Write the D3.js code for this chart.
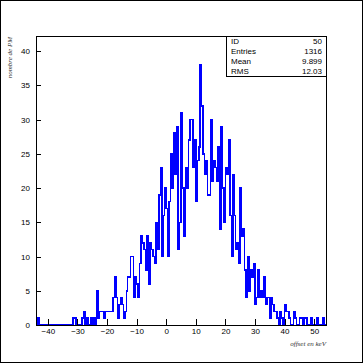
<!DOCTYPE html>
<html>
<head>
<meta charset="utf-8">
<script src="https://cdn.jsdelivr.net/npm/d3@7"></script>
<style>
  body { margin: 0; background: #fff; }
</style>
</head>
<body>
<div id="chart"></div>
<script>
// histogram 50 : offset en keV, 0.5 keV bins from -44 to 54
const binLow = -44;
const binWidth = 0.5;
const counts = [
  0, 1, 0, 0, 0, 0, 0, 0, 0, 0, 0, 0, 0, 0, 0, 0, 0, 0, 0, 0,
  0, 0, 0, 0, 0, 1, 1, 0, 0, 0, 0, 1, 2, 0, 1, 0, 0, 1, 0, 1,
  0, 5, 1, 2, 2, 2, 1, 2, 2, 2, 2, 2, 4, 7, 4, 1, 3, 4, 3, 1,
  2, 5, 7, 7, 10, 10, 4, 7, 6, 4, 9, 13, 12, 11, 8, 13, 6, 12, 11, 10,
  9, 15, 11, 19, 23, 10, 16, 20, 17, 10, 18, 25, 20, 28, 22, 29, 11, 15, 31, 20,
  13, 23, 20, 27, 30, 30, 23, 27, 18, 24, 26, 38, 32, 25, 22, 24, 19, 19, 30, 21,
  24, 23, 21, 26, 14, 29, 20, 15, 23, 22, 27, 16, 10, 22, 16, 11, 12, 9, 20, 13,
  14, 8, 4, 10, 5, 8, 7, 9, 3, 4, 8, 4, 5, 4, 7, 3, 4, 4, 1, 4,
  3, 2, 2, 1, 0, 2, 1, 0, 3, 2, 2, 1, 0, 0, 2, 1, 0, 0, 1, 1,
  0, 1, 1, 0, 0, 0, 1, 0, 0, 0, 1, 0, 0, 0, 1, 0
];

const xMajor = [-40, -30, -20, -10, 0, 10, 20, 30, 40, 50];
const yMajor = [0, 5, 10, 15, 20, 25, 30, 35, 40];

const statLabels = ["ID", "Entries", "Mean", "RMS"];
const statValues = ["50", "1316", "9.899", "12.03"];

const W = 363, H = 363;
const frame = {left: 36, right: 326, top: 36, bottom: 325};
const sans = "'Liberation Sans', Arial, sans-serif";
const serif = "'Liberation Serif', 'Times New Roman', serif";

const svg = d3.select("#chart").append("svg")
    .attr("width", W)
    .attr("height", H)
    .attr("font-family", sans);

svg.append("rect")
    .attr("x", 0.5).attr("y", 0.5)
    .attr("width", W - 1).attr("height", H - 1)
    .attr("fill", "#fff").attr("stroke", "#000");

const xMax = binLow + counts.length * binWidth;
const x = d3.scaleLinear().domain([binLow, xMax]).range([frame.left, frame.right]);
const y = d3.scaleLinear().domain([0, 42.2]).range([frame.bottom, frame.top]);

// step outline of the histogram
const pts = [[binLow, 0]];
counts.forEach((c, i) => pts.push([binLow + i * binWidth, c]));
pts.push([xMax, counts[counts.length - 1]]);
pts.push([xMax, 0]);

const line = d3.line()
    .x(d => x(d[0]))
    .y(d => y(d[1]))
    .curve(d3.curveStepAfter);

svg.append("path")
    .datum(pts)
    .attr("d", line)
    .attr("fill", "none")
    .attr("stroke", "#0000ff")
    .attr("stroke-width", 1.5)
    .attr("shape-rendering", "crispEdges");

// axes, ticks pointing inward
const xMinor = d3.range(-44, 54.01, 2);
const yMinor = d3.range(0, 42.01, 1);

const gx = svg.append("g").attr("transform", `translate(0,${frame.bottom})`);
gx.call(d3.axisBottom(x).tickValues(xMinor).tickSize(-3.5).tickFormat(""));
gx.call(d3.axisBottom(x).tickValues(xMajor).tickSize(-6).tickPadding(3).tickFormat(d3.format("d")));

const gy = svg.append("g").attr("transform", `translate(${frame.left},0)`);
gy.call(d3.axisLeft(y).tickValues(yMinor).tickSize(-2.5).tickFormat(""));
gy.call(d3.axisLeft(y).tickValues(yMajor).tickSize(-5).tickPadding(6).tickFormat(d3.format("d")));

svg.selectAll(".domain").remove();
svg.selectAll(".tick line").attr("shape-rendering", "crispEdges");
svg.selectAll(".tick text")
    .attr("font-family", sans)
    .attr("font-size", 8)
    .attr("fill", "#000");

// frame
svg.append("rect")
    .attr("x", frame.left + 0.5).attr("y", frame.top + 0.5)
    .attr("width", frame.right - frame.left).attr("height", frame.bottom - frame.top)
    .attr("fill", "none").attr("stroke", "#000")
    .attr("shape-rendering", "crispEdges");

// stats box
const box = {x0: 226, x1: 326, y0: 36, y1: 76};
svg.append("rect")
    .attr("x", box.x0 + 0.5).attr("y", box.y0 + 0.5)
    .attr("width", box.x1 - box.x0).attr("height", box.y1 - box.y0)
    .attr("fill", "#fff").attr("stroke", "#000")
    .attr("shape-rendering", "crispEdges");

const rowH = (box.y1 - box.y0) / statLabels.length;
svg.append("g").selectAll("text")
    .data(statLabels)
    .join("text")
    .attr("x", box.x0 + 5)
    .attr("y", (d, i) => box.y0 + rowH * (i + 0.5) + 3)
    .attr("font-size", 8)
    .text(d => d);

svg.append("g").selectAll("text")
    .data(statValues)
    .join("text")
    .attr("x", box.x1 - 4)
    .attr("y", (d, i) => box.y0 + rowH * (i + 0.5) + 3)
    .attr("text-anchor", "end")
    .attr("font-size", 8)
    .text(d => d);

// axis titles
svg.append("text")
    .attr("transform", `translate(11.5,${frame.top + 1}) rotate(-90)`)
    .attr("text-anchor", "end")
    .attr("font-family", serif)
    .attr("font-style", "italic")
    .attr("font-size", 7)
    .attr("fill", "#333")
    .text("nombre de PM");

svg.append("text")
    .attr("x", frame.right)
    .attr("y", 346)
    .attr("text-anchor", "end")
    .attr("font-family", serif)
    .attr("font-style", "italic")
    .attr("font-size", 7)
    .attr("fill", "#333")
    .text("offset en keV");
</script>
</body>
</html>
